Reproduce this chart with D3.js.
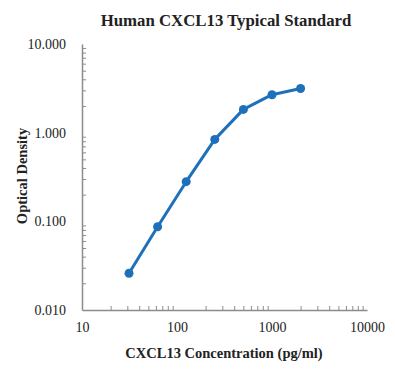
<!DOCTYPE html>
<html>
<head>
<meta charset="utf-8">
<script src="https://cdn.jsdelivr.net/npm/d3@7"></script>
<style>
  body { margin: 0; background: #fff; }
  text { font-family: "Liberation Serif", "Times New Roman", serif; fill: #222; }
</style>
</head>
<body>
<div id="chart"></div>
<script>
// standard curve readings
const concentrations = [31.25, 62.5, 125, 250, 500, 1000, 2000];
const densities = [0.026, 0.087, 0.28, 0.84, 1.83, 2.68, 3.15];

const x_ticks = [10, 100, 1000, 10000];
const y_ticks = [0.01, 0.1, 1, 10];

const width = 395, height = 386;
const margin = {left: 82, right: 28, top: 44, bottom: 76};

const svg = d3.select("#chart").append("svg")
    .attr("width", width)
    .attr("height", height);

const xScale = d3.scaleLog().domain([10, 10000]).range([margin.left, width - margin.right]);
const yScale = d3.scaleLog().domain([0.01, 10]).range([height - margin.bottom, margin.top]);

// minor ticks for every decade (2..9)
function minorTicks(lo, hi) {
    const out = [];
    for (let d = lo; d < hi; d *= 10) {
        for (let k = 2; k < 10; k++) out.push(d * k);
    }
    return out;
}

// x axis
const xAxis = svg.append("g")
    .attr("transform", "translate(0," + yScale(0.01) + ")")
    .call(d3.axisBottom(xScale).tickValues(x_ticks).tickSize(0).tickPadding(12)
        .tickFormat(d3.format("d")));
xAxis.selectAll("text").style("font-size", "14px");
xAxis.select(".domain").attr("stroke", "#8c8c8c").attr("stroke-width", 1.5);

svg.append("g")
    .attr("transform", "translate(0," + yScale(0.01) + ")")
    .call(d3.axisTop(xScale).tickValues(minorTicks(10, 10000)).tickSize(4).tickFormat(""))
    .call(g => g.select(".domain").remove())
    .selectAll("line").attr("stroke", "#8c8c8c");

// y axis
const yAxis = svg.append("g")
    .attr("transform", "translate(" + xScale(10) + ",0)")
    .call(d3.axisLeft(yScale).tickValues(y_ticks).tickSize(0).tickPadding(16)
        .tickFormat(d3.format(".3f")));
yAxis.selectAll("text").style("font-size", "14px");
yAxis.select(".domain").attr("stroke", "#8c8c8c").attr("stroke-width", 1.5);

svg.append("g")
    .attr("transform", "translate(" + xScale(10) + ",0)")
    .call(d3.axisRight(yScale).tickValues(minorTicks(0.01, 10)).tickSize(4).tickFormat(""))
    .call(g => g.select(".domain").remove())
    .selectAll("line").attr("stroke", "#8c8c8c");

// series
const pts = concentrations.map((c, i) => [c, densities[i]]);
const blue = "#1f70bb";

svg.append("path")
    .datum(pts)
    .attr("fill", "none")
    .attr("stroke", blue)
    .attr("stroke-width", 3)
    .attr("stroke-linejoin", "round")
    .attr("d", d3.line().x(d => xScale(d[0])).y(d => yScale(d[1])));

svg.selectAll("circle.pt")
    .data(pts)
    .join("circle")
    .attr("class", "pt")
    .attr("cx", d => xScale(d[0]))
    .attr("cy", d => yScale(d[1]))
    .attr("r", 4.5)
    .attr("fill", blue);

// titles
svg.append("text")
    .attr("x", 226).attr("y", 26)
    .attr("text-anchor", "middle")
    .style("font-size", "16.8px").style("font-weight", "bold")
    .text("Human CXCL13 Typical Standard");

svg.append("text")
    .attr("x", 224).attr("y", 358)
    .attr("text-anchor", "middle")
    .style("font-size", "14.5px").style("font-weight", "bold")
    .text("CXCL13 Concentration (pg/ml)");

svg.append("text")
    .attr("transform", "translate(27,176) rotate(-90)")
    .attr("text-anchor", "middle")
    .style("font-size", "14.5px").style("font-weight", "bold")
    .text("Optical Density");
</script>
</body>
</html>
